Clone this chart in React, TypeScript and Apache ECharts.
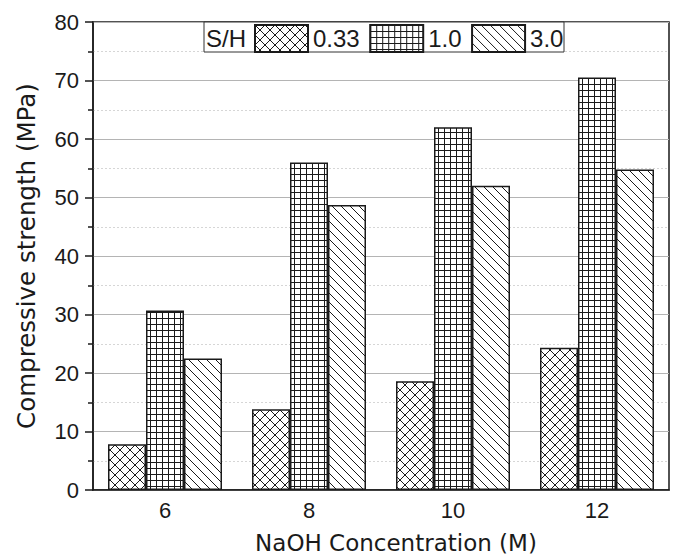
import React, { useEffect, useRef } from "react";
import * as echarts from "echarts";

// NaOH molarity on the x axis
const categories = ["6", "8", "10", "12"];
// Na2SiO3 / NaOH ratios (legend entries)
const ratioLabels = ["0.33", "1.0", "3.0"];
// Compressive strength in MPa for each ratio
const strengthSH033 = [7.8, 13.8, 18.6, 24.3];
const strengthSH10 = [30.7, 56.0, 62.0, 70.5];
const strengthSH30 = [22.5, 48.7, 52.0, 54.8];

const FONT = "'Liberation Sans', Arial, sans-serif";
const TITLE_FONT = "'DejaVu Sans', 'Liberation Sans', sans-serif";
const INK = "#1a1a1a";

type Hatch = "cross" | "grid" | "back";

// Build a small repeating tile used as the bar fill
function hatchPattern(kind: Hatch) {
  const size = kind === "grid" ? 6 : kind === "cross" ? 10 : 9;
  const c = document.createElement("canvas");
  c.width = size;
  c.height = size;
  const ctx = c.getContext("2d")!;
  ctx.fillStyle = "#ffffff";
  ctx.fillRect(0, 0, size, size);
  ctx.strokeStyle = INK;
  ctx.lineWidth = 1;
  ctx.beginPath();
  if (kind === "grid") {
    ctx.moveTo(0, 0.5);
    ctx.lineTo(size, 0.5);
    ctx.moveTo(0.5, 0);
    ctx.lineTo(0.5, size);
  } else {
    for (const off of [-size, 0, size]) {
      // "\" strokes
      ctx.moveTo(off, 0);
      ctx.lineTo(off + size, size);
      if (kind === "cross") {
        // "/" strokes
        ctx.moveTo(off, size);
        ctx.lineTo(off + size, 0);
      }
    }
  }
  ctx.stroke();
  return {
    image: c.toDataURL(),
    repeat: "repeat",
    imageWidth: size,
    imageHeight: size,
  } as any;
}

export default function App() {
  const ref = useRef<HTMLDivElement>(null);

  useEffect(() => {
    if (!ref.current) return;
    const chart = echarts.init(ref.current, undefined, { renderer: "svg" });

    const fills: Hatch[] = ["cross", "grid", "back"];
    const values = [strengthSH033, strengthSH10, strengthSH30];

    chart.setOption({
      animation: false,
      backgroundColor: "#ffffff",
      textStyle: { fontFamily: FONT },
      grid: {
        left: 93,
        right: 4,
        top: 22,
        bottom: 65,
        show: true,
        borderColor: INK,
        borderWidth: 1.5,
        backgroundColor: "transparent",
      },
      legend: {
        data: ratioLabels,
        left: 254,
        top: 24,
        padding: 0,
        itemWidth: 53,
        itemHeight: 27,
        itemGap: 9.5,
        icon: "rect",
        selectedMode: false,
        z: 6,
        textStyle: { fontSize: 24, color: INK, fontFamily: FONT },
      },
      graphic: [
        {
          type: "rect",
          shape: { x: 204, y: 22, width: 360, height: 30 },
          style: { fill: "#ffffff", stroke: "#333", lineWidth: 1 },
          z: 3,
        },
        {
          type: "text",
          x: 206,
          y: 38,
          style: {
            text: "S/H",
            fontSize: 24,
            fill: INK,
            fontFamily: FONT,
            verticalAlign: "middle",
          },
          z: 4,
        },
      ],
      xAxis: {
        type: "category",
        data: categories,
        name: "NaOH Concentration (M)",
        nameLocation: "middle",
        nameGap: 41,
        nameTextStyle: {
          fontSize: 23,
          color: INK,
          fontFamily: TITLE_FONT,
          padding: [0, 0, 0, 30],
        },
        axisLine: { lineStyle: { color: INK, width: 1.5 } },
        axisTick: { show: false },
        axisLabel: { fontSize: 22, color: INK, margin: 9, fontFamily: FONT },
      },
      yAxis: {
        type: "value",
        min: 0,
        max: 80,
        interval: 10,
        name: "Compressive strength (MPa)",
        nameLocation: "middle",
        nameGap: 54,
        nameTextStyle: { fontSize: 24.5, color: INK, fontFamily: TITLE_FONT },
        axisLine: { show: true, lineStyle: { color: INK, width: 1.5 } },
        axisTick: { show: true, length: 8, lineStyle: { color: INK, width: 1.5 } },
        minorTick: { show: true, splitNumber: 2, length: 5, lineStyle: { color: INK, width: 1.5 } },
        axisLabel: { fontSize: 22, color: INK, margin: 14, fontFamily: FONT },
        splitLine: { show: true, lineStyle: { color: "#b4b4b4", width: 1 } },
        minorSplitLine: { show: true, lineStyle: { color: "#d6d6d6", width: 1, type: [2, 2] } },
      },
      series: ratioLabels.map((name, i) => ({
        name,
        type: "bar",
        data: values[i],
        barWidth: 38,
        barGap: "0%",
        itemStyle: {
          color: hatchPattern(fills[i]),
          borderColor: INK,
          borderWidth: 1.5,
        },
        emphasis: { disabled: true },
      })),
    });

    return () => chart.dispose();
  }, []);

  return (
    <div
      ref={ref}
      style={{ position: "fixed", left: 0, top: 0, width: 673, height: 559 }}
    />
  );
}
